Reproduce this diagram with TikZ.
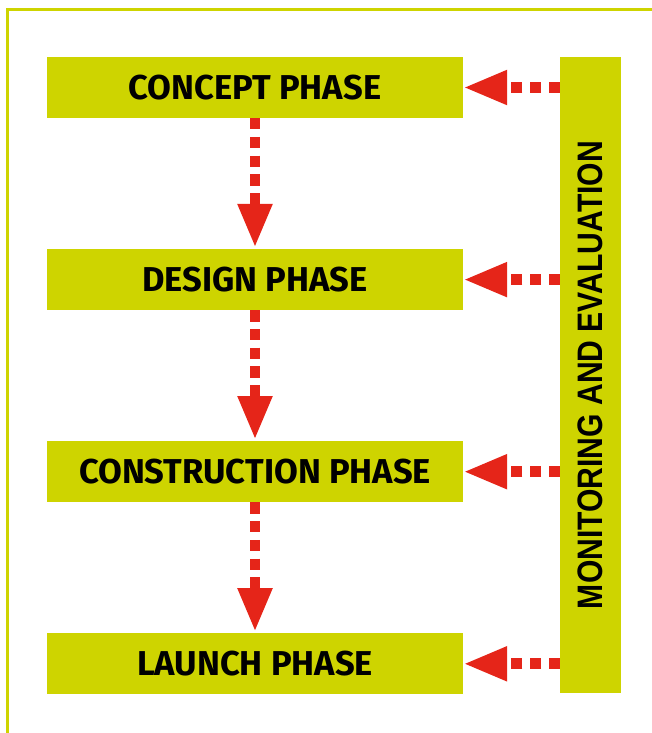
\documentclass[tikz,border=0pt]{standalone}
\usepackage{fontspec}
\setmainfont{Fira Sans}
\newfontfamily\sidefont[FakeStretch=0.85]{Liberation Sans}
\usetikzlibrary{arrows.meta,positioning}

\definecolor{phaselime}{RGB}{206,212,0}
\definecolor{flowred}{RGB}{229,37,25}

\begin{document}
\begin{tikzpicture}[x=1pt,y=-1pt,
  phase/.style={fill=phaselime,minimum width=416pt,minimum height=61pt,
    inner sep=0pt,font=\fontsize{34.5}{38}\selectfont\bfseries},
  flow/.style={flowred,line width=10.7pt,dash pattern=on 11.3pt off 7.4pt,
    -{Triangle[width=32pt,length=44pt]},shorten >=1pt},
  node distance=130.7pt]

  \useasboundingbox (0,0) rectangle (652,733);
  \clip (0,0) rectangle (652,733);

  % outer frame
  \draw[phaselime,line width=2.6pt] (7.6,760) |- (680,9.3);

  \node[phase] (concept) at (255,87.5) {CONCEPT PHASE};
  \node[phase,below=of concept] (design) {DESIGN PHASE};
  \node[phase,below=of design] (construction) {CONSTRUCTION PHASE};
  \node[phase,below=of construction] (launch) {LAUNCH PHASE};

  \node[fill=phaselime,minimum width=61pt,minimum height=636pt,inner sep=0pt]
    (monitor) at (590.5,375) {};
  \node[rotate=90,font=\sidefont\fontsize{35.4}{38}\selectfont\bfseries]
    (monitorlabel) at (monitor.center) {MONITORING AND EVALUATION};

  % phase sequence
  \draw[flow] (concept) -- (design);
  \draw[flow] (design) -- (construction);
  \draw[flow] (construction) -- (launch);

  % feedback
  \foreach \p in {concept,design,construction,launch}
    \draw[flow,shorten >=0pt] (monitor.west |- \p.east) -- (\p.east);
\end{tikzpicture}
\end{document}
